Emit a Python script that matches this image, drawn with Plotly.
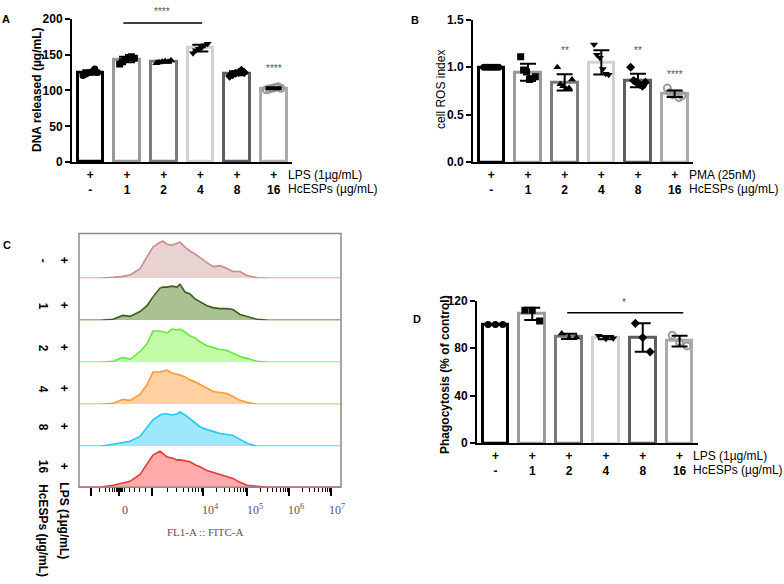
import numpy as np
import plotly.graph_objects as go

W, H = 784, 584
def fx(px): return px / W
def fy(py): return 1 - py / H

# ---------------- data ----------------
lps_signs = ["+", "+", "+", "+", "+", "+"]
doses = ["-", "1", "2", "4", "8", "16"]

dna_points = [
    [121, 123, 125, 126, 130, 125],
    [137, 140, 143, 146, 147, 145],
    [138, 139, 140, 141, 140, 142],
    [152, 156, 158, 160, 163, 165],
    [120, 122, 124, 125, 128, 125],
    [101, 102, 103, 104, 105, 103],
]
ros_points = [
    [1.0, 1.0, 1.0, 1.0, 1.0, 1.0],
    [1.11, 0.97, 0.95, 0.87, 0.88, 0.90],
    [1.0, 0.82, 0.80, 0.77, 0.78, 0.87],
    [1.24, 1.13, 1.10, 0.98, 0.93, 0.92],
    [1.0, 0.86, 0.84, 0.82, 0.80, 0.84],
    [0.78, 0.73, 0.71, 0.72, 0.68, 0.70],
]
phago_points = [
    [100, 100, 100],
    [112, 112, 103],
    [92.5, 88.5, 89],
    [90.5, 88, 88.5],
    [101, 89, 77],
    [91, 85, 82],
]

a_ticks = [0, 50, 100, 150, 200]
b_ticks = [0, 0.5, 1.0, 1.5]
d_ticks = [0, 40, 80, 120]

# flow cytometry histograms (x in display channel units, y in counts units)
fl_x = [0, 21, 34, 44, 51, 61, 68, 74, 81, 84, 88, 93, 98, 101, 106, 111, 116,
        121, 128, 134, 141, 148, 154, 161, 168, 178, 190, 262]
fl_rows = {
    "-":  [0, 0, 1, 2, 3.5, 10, 22, 32, 37, 38, 35, 34, 36, 37, 32, 28, 25, 21, 16, 12, 13, 10, 7, 7, 3, 0.5, 0, 0],
    "1":  [0, 0, 1, 5, 4, 9, 15, 24, 33, 34, 34, 35, 34, 37, 29, 27, 22, 19, 15, 13, 12, 12, 11, 6, 4, 1, 0, 0],
    "2":  [0, 0, 1, 5, 3, 11, 19, 32, 32, 31, 30, 34, 33, 34, 31, 27, 25, 21, 17, 15, 13, 12, 9, 6, 4, 1, 0, 0],
    "4":  [0, 0, 1, 5, 4, 10, 20, 33, 33, 34, 35, 32, 31, 30, 28, 25, 23, 20, 16, 13, 12, 11, 8, 4, 2, 0, 0, 0],
    "8":  [0, 0, 2, 4, 5, 10, 19, 27, 32, 33, 33, 32, 33, 35, 32, 28, 24, 20, 17, 15, 13, 12, 11, 7, 3, 0, 0, 0],
    "16": [0, 0, 2, 4, 6, 13, 24, 33, 37, 34, 31, 30, 28, 28, 27, 26, 23, 21, 17, 15, 13, 11, 9, 5, 2, 1, 0, 0],
}
fl_major_ticks = [12, 40, 73, 124, 168, 210, 252]
fl_minor_ticks = [20, 26, 30, 33, 35, 37, 38, 39, 41, 42, 43, 45, 50, 55, 60, 66,
                  88, 97, 104, 109, 113, 116, 119, 122,
                  137, 145, 150, 155, 158, 161, 164, 166,
                  181, 188, 193, 197, 201, 204, 206, 208,
                  223, 230, 235, 239, 243, 246, 248, 250]
fl_tick_labels = [(125, "0"), (211, "10<sup>4</sup>"), (255, "10<sup>5</sup>"),
                  (296, "10<sup>6</sup>"), (337, "10<sup>7</sup>")]

# ---------------- styles ----------------
bar_colors = ["#000000", "#9a9a9a", "#7a7a7a", "#d2d2d2", "#5e5e5e", "#ababab"]
symbols = ["circle", "square", "triangle-up", "triangle-down", "diamond", "circle-open"]
mcolors = ["#000000", "#000000", "#000000", "#000000", "#000000", "#9a9a9a"]
hist_line = ["#c98b8b", "#3b5e1b", "#66e83a", "#ff9933", "#22c8f5", "#ee3535"]
hist_fill = ["#e8d2d2", "#a9c193", "#c2fca6", "#ffd0a2", "#9de8fb", "#ffabab"]

SANS = "Liberation Sans, Arial, sans-serif"
SERIF = "Liberation Serif, Times New Roman, serif"

fig = go.Figure()


def bar_panel(points, xa, ya):
    means = [float(np.mean(p)) for p in points]
    sds = [float(np.std(p, ddof=1)) for p in points]
    xs = list(range(len(points)))
    fig.add_trace(go.Bar(x=xs, y=means, width=0.7, xaxis=xa, yaxis=ya,
                         marker=dict(color="white", line=dict(color=bar_colors, width=3))))
    for i, p in enumerate(points):
        offs = np.linspace(-0.2, 0.2, len(p))
        fig.add_trace(go.Scatter(
            x=[i + o for o in offs], y=p, mode="markers", xaxis=xa, yaxis=ya,
            marker=dict(symbol=symbols[i], size=7, color=mcolors[i],
                        line=dict(width=2 if i == 5 else 0, color=mcolors[i]))))
    fig.add_trace(go.Scatter(
        x=xs, y=means, mode="markers", xaxis=xa, yaxis=ya,
        marker=dict(size=1, color="rgba(0,0,0,0)"),
        error_y=dict(type="data", array=sds, color="black", thickness=2, width=8)))


bar_panel(dna_points, "x", "y")
bar_panel(ros_points, "x2", "y2")
bar_panel(phago_points, "x3", "y3")

row_names = list(fl_rows.keys())
for k, name in enumerate(row_names):
    fig.add_trace(go.Scatter(
        x=fl_x, y=fl_rows[name], mode="lines", xaxis="x4", yaxis="y%d" % (4 + k),
        line=dict(color=hist_line[k], width=1.6), fill="tozeroy", fillcolor=hist_fill[k]))

tick_text = ["<b>%s</b><br><b>%s</b>" % (s, d) for s, d in zip(lps_signs, doses)]


def cat_xaxis(x0, x1, anchor):
    return dict(domain=[fx(x0), fx(x1)], range=[-0.5, 5.5], anchor=anchor,
                showline=True, linecolor="black", linewidth=2, ticks="",
                tickvals=list(range(6)), ticktext=tick_text,
                tickfont=dict(family=SANS, size=12, color="black"),
                showgrid=False, zeroline=False, fixedrange=True)


def val_yaxis(y0, y1, rng, ticks, anchor, fmt=None):
    d = dict(domain=[fy(y1), fy(y0)], range=rng, anchor=anchor, tickvals=ticks,
             showline=True, linecolor="black", linewidth=2, ticks="outside",
             ticklen=5, tickwidth=2, tickcolor="black",
             tickfont=dict(family=SANS, size=12, color="black", weight="bold"),
             showgrid=False, zeroline=False)
    if fmt:
        d["tickformat"] = fmt
    return d


layout = dict(
    width=W, height=H, margin=dict(l=0, r=0, t=0, b=0),
    paper_bgcolor="white", plot_bgcolor="rgba(0,0,0,0)", showlegend=False,
    bargap=0,
    xaxis=cat_xaxis(72, 292, "y"),
    yaxis=val_yaxis(12, 159, [0, 200], a_ticks, "x"),
    xaxis2=cat_xaxis(473, 693, "y2"),
    yaxis2=val_yaxis(13, 159, [0, 1.5], b_ticks, "x2", ".1f"),
    xaxis3=cat_xaxis(477, 698, "y3"),
    yaxis3=val_yaxis(301, 447, [0, 120], d_ticks, "x3"),
    xaxis4=dict(domain=[fx(79), fx(341)], range=[0, 262], anchor="y9",
                tickvals=fl_major_ticks, ticktext=[" "] * len(fl_major_ticks),
                ticks="outside", ticklen=8, tickwidth=2, tickcolor="black",
                minor=dict(tickvals=fl_minor_ticks, ticks="outside", ticklen=4,
                           tickwidth=1, tickcolor="black"),
                showline=False, showgrid=False, zeroline=False),
)
baselines = [278, 321, 364, 407, 450, 492]
for k, b in enumerate(baselines):
    top = 233 if k == 0 else b - 43
    layout["yaxis%d" % (4 + k)] = dict(domain=[fy(b), fy(top)], range=[0, b - top],
                                       anchor="x4", visible=False, fixedrange=True)

fig.update_layout(**layout)

# frame of panel C
fig.add_shape(type="rect", xref="paper", yref="paper", x0=fx(79), x1=fx(341),
              y0=fy(492), y1=fy(232), line=dict(color="#8a8a8a", width=1.5),
              layer="above")

ann = []


def txt(x, y, s, size=12, bold=False, xanchor="center", angle=0, color="black",
        family=SANS, xref="paper"):
    ann.append(dict(x=x if xref != "paper" else fx(x), y=fy(y), xref=xref, yref="paper",
                    text=s, showarrow=False, xanchor=xanchor, yanchor="middle",
                    textangle=angle,
                    font=dict(family=family, size=size, color=color,
                              weight="bold" if bold else "normal")))


# panel letters
txt(6, 12, "A", 11, True)
txt(415, 13, "B", 11, True)
txt(7, 244, "C", 11, True)
txt(417, 320, "D", 11, True)

# y titles
txt(37, 85, "DNA released (µg/mL)", 12, True, angle=-90)
txt(441, 85, "cell ROS index", 12, False, angle=-90)
txt(445, 376, "Phagocytosis (% of control)", 12, True, angle=-90)

# side condition labels
txt(286, 172, "LPS (1µg/mL)", 12, xanchor="left")
txt(286, 186, "HcESPs (µg/mL)", 12, xanchor="left")
txt(687, 172, "PMA (25nM)", 12, xanchor="left")
txt(687, 186, "HcESPs (µg/mL)", 12, xanchor="left")
txt(691, 460, "LPS (1µg/mL)", 12, xanchor="left")
txt(691, 474, "HcESPs (µg/mL)", 12, xanchor="left")

# significance
sig_col = "#555555"
txt(162, 5, "****", 10, color=sig_col)
txt(5, 63, "****", 10, color=sig_col, xref="x")
txt(2, 45, "**", 10, color=sig_col, xref="x2")
txt(4, 45, "**", 10, color=sig_col, xref="x2")
txt(5, 69, "****", 10, color=sig_col, xref="x2")
txt(3.5, 303, "*", 10, color=sig_col, xref="x3")
fig.add_shape(type="line", xref="x", yref="y", x0=0.9, x1=3.05, y0=194, y1=194,
              line=dict(color="black", width=1.5))
fig.add_shape(type="line", xref="x3", yref="y3", x0=1.95, x1=5.1, y0=110, y1=110,
              line=dict(color="black", width=1.5))

# panel C row labels
row_label_y = [260, 306, 349, 391, 430, 471]
for name, yy in zip(row_names, row_label_y):
    txt(43, yy, "<b>%s</b>" % name, 12, angle=90)
    txt(64, yy, "<b>+</b>", 12, angle=90)
txt(64, 527, "LPS (1µg/mL)", 12, True, angle=90)
txt(43, 536, "HcESPs (µg/mL)", 12, True, angle=90)

for xpx, lab in fl_tick_labels:
    txt(xpx, 515, lab, 12, color="#555555", family=SERIF)
txt(205, 538, "FL1-A :: FITC-A", 11, color="#555555", family=SERIF)

fig.update_layout(annotations=ann)
fig.write_html("out.html")
